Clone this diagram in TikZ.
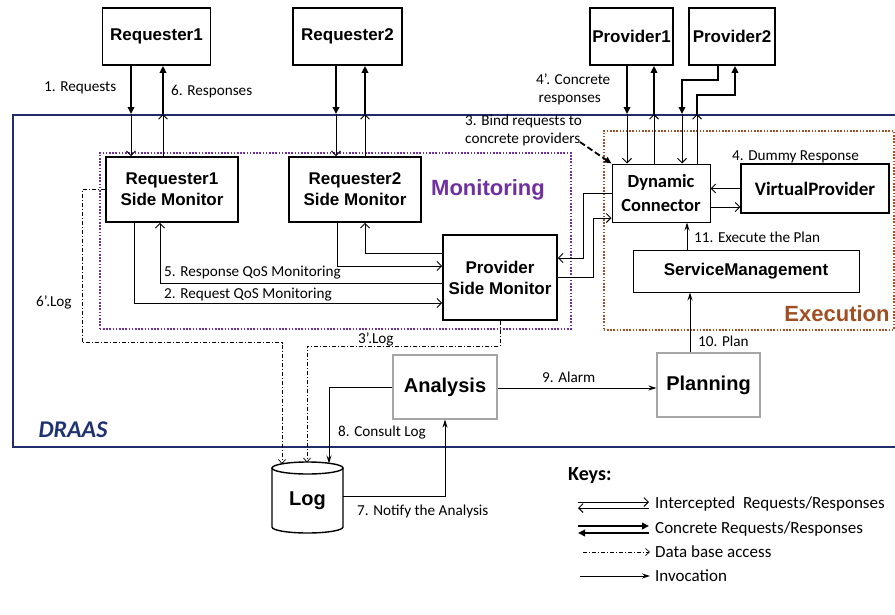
\documentclass[tikz,border=0pt]{standalone}
\usepackage{fontspec}
\setmainfont{Liberation Sans}
\newfontfamily\carl{Carlito}
\usetikzlibrary{arrows.meta}
\definecolor{navy}{HTML}{1F2D6B}
\definecolor{draastxt}{HTML}{1F3370}
\definecolor{monpurple}{HTML}{7030A0}
\definecolor{exebrown}{HTML}{A04F23}
\definecolor{boxgray}{HTML}{A6A6A6}
\tikzset{
 bigbox/.style={draw, line width=1.8pt, inner sep=0pt, align=center, font=\bfseries\fontsize{17}{21}\selectfont},
 cbox/.style={draw, inner sep=0pt, align=center, font=\carl\bfseries\fontsize{18.5}{24}\selectfont},
 graybox/.style={draw=boxgray, line width=1.1pt, inner sep=0pt, font=\bfseries\fontsize{20}{24}\selectfont},
 lbl/.style={anchor=west, inner sep=0pt, align=left, font=\carl\fontsize{15.2}{18}\selectfont},
 keylbl/.style={anchor=west, inner sep=0pt, font=\carl\fontsize{17}{20}\selectfont},
 conc/.style={line width=2.4pt, -{Triangle[length=7pt,width=6.5pt]}},
 icpt/.style={line width=0.9pt, -{Straight Barb[length=4.5pt,width=9pt]}},
 invk/.style={line width=1pt, -{Stealth[length=8pt,width=5pt]}},
 dbase/.style={line width=0.7pt, dash pattern=on 4pt off 2pt on 1pt off 2pt, -{Straight Barb[length=4pt,width=7pt]}},
 bindarr/.style={line width=1.8pt, dash pattern=on 6pt off 3pt, -{Triangle[length=7pt,width=6pt]}},
 frame/.style={inner sep=0pt, anchor=north west},
}
\begin{document}
\begin{tikzpicture}[x=1pt,y=-1pt]
\useasboundingbox (0,0) rectangle (895,614);
\clip (0,0) rectangle (895,614);
\fill[white] (0,0) rectangle (895,614);

% frames
\node[frame, draw=navy, line width=1.8pt, minimum width=900pt, minimum height=332pt] (draas) at (12,114) {};
\node[frame, draw=monpurple, line width=1.6pt, dash pattern=on 1.6pt off 1.6pt, minimum width=471pt, minimum height=176pt] (mon) at (99,152) {};
\node[frame, draw=exebrown, line width=1.6pt, dash pattern=on 1.6pt off 1.6pt, minimum width=290pt, minimum height=199pt] (exe) at (603,130) {};
\node[text=draastxt, font=\carl\bfseries\itshape\fontsize{24}{28}\selectfont] (draaslbl) at (73,430) {DRAAS};
\node[text=monpurple, font=\bfseries\fontsize{22}{26}\selectfont] (monlbl) at (488,190) {Monitoring};
\node[text=exebrown, font=\bfseries\fontsize{22}{26}\selectfont] (exelbl) at (837,314) {Execution};

% boxes
\node[bigbox, minimum width=108pt, minimum height=57pt] (req1) at (156.5,36.5) {Requester1};
\node[bigbox, minimum width=109pt, minimum height=57pt] (req2) at (347.5,36.5) {Requester2};
\node[bigbox, minimum width=83pt, minimum height=57pt] (prov1) at (631.5,36.5) {Provider1};
\node[bigbox, minimum width=86pt, minimum height=57pt] (prov2) at (732,36.5) {Provider2};
\node[bigbox, minimum width=132pt, minimum height=65pt] (r1sm) at (172,189.5) {Requester1\\Side Monitor};
\node[bigbox, minimum width=132pt, minimum height=65pt] (r2sm) at (355,189.5) {Requester2\\Side Monitor};
\node[bigbox, minimum width=114pt, minimum height=85pt] (psm) at (500,277.5) {Provider\\Side Monitor};
\node[cbox, line width=1pt, minimum width=98pt, minimum height=58pt] (dc) at (661,193) {Dynamic\\Connector};
\node[cbox, line width=1.3pt, minimum width=148pt, minimum height=49pt, font=\carl\bfseries\fontsize{19}{24}\selectfont] (vp) at (815,188.5) {VirtualProvider};
\node[bigbox, line width=1pt, minimum width=226pt, minimum height=42pt] (sm) at (746,271) {ServiceManagement};
\node[graybox, minimum width=103pt, minimum height=64pt] (plan) at (708.5,385) {Planning};
\node[graybox, minimum width=104pt, minimum height=64pt] (ana) at (445,387) {Analysis};

% Log cylinder
\node[inner sep=0pt, minimum width=71pt, minimum height=71pt, font=\bfseries\fontsize{20}{24}\selectfont] (log) at (307.5,501) {Log};
\draw[line width=1.4pt] (272,468) -- (272,527) arc[start angle=180, end angle=360, x radius=35.5pt, y radius=6pt] -- (343,468);
\draw[line width=1.4pt] (307.5,468) ellipse [x radius=35.5pt, y radius=6pt];
\coordinate (lg1) at (282,464);
\coordinate (lg2) at (307,462.5);
\coordinate (lg3) at (329,463.5);

% crossing points on the DRAAS border
\coordinate (c1d) at (131,114);
\coordinate (c1u) at (163,114);
\coordinate (c2d) at (336,114);
\coordinate (c2u) at (365,114);
\coordinate (p1d) at (627,114);
\coordinate (p1u) at (654,114);
\coordinate (p2d) at (682,114);
\coordinate (p2u) at (697,114);
\coordinate (p2a) at (718,80);
\coordinate (p2b) at (735,95);

% requester 1
\draw[conc] (req1.south -| c1d) -- (c1d);
\draw[icpt] (c1d) -- (c1d |- r1sm.north);
\draw[icpt] (r1sm.north -| c1u) -- (c1u);
\draw[conc] (c1u) -- (c1u |- req1.south);
% requester 2
\draw[conc] (req2.south -| c2d) -- (c2d);
\draw[icpt] (c2d) -- (c2d |- r2sm.north);
\draw[icpt] (r2sm.north -| c2u) -- (c2u);
\draw[conc] (c2u) -- (c2u |- req2.south);
% provider 1
\draw[conc] (prov1.south -| p1d) -- (p1d);
\draw[icpt] (p1d) -- (p1d |- dc.north);
\draw[icpt] (dc.north -| p1u) -- (p1u);
\draw[conc] (p1u) -- (p1u |- prov1.south);
% provider 2
\draw[conc] (p2a |- prov2.south) -- (p2a) -| (p2d);
\draw[icpt] (p2d) -- (p2d |- dc.north);
\draw[icpt] (dc.north -| p2u) -- (p2u);
\draw[conc] (p2u) |- (p2b) -- (p2b |- prov2.south);

% bind
\coordinate (bind) at (580,142);
\draw[bindarr] (bind) -- (dc.north west);

% monitoring arrows
\draw[icpt] ([xshift=-38pt]r1sm.south) |- ([yshift=-25.5pt]psm.west);
\draw[icpt] ([yshift=-5.5pt]psm.west) -| ([xshift=-12pt]r1sm.south);
\draw[icpt] ([xshift=-18pt]r2sm.south) |- ([yshift=11.5pt]psm.west);
\draw[icpt] ([yshift=24.5pt]psm.west) -| ([xshift=10pt]r2sm.south);

% psm <-> dc
\draw[icpt] (dc.west) -- ++(-28,0) |- ([yshift=19.5pt]psm.east);
\draw[icpt] (psm.east) -- ++(36,0) |- ([yshift=-25pt]dc.west);

% dc <-> vp
\draw[icpt] (vp.west) -- (vp.west -| dc.east);
\draw[icpt] ([yshift=-14pt]dc.east) -- ([yshift=-14pt]dc.east -| vp.west);

% invocations
\draw[invk] ([xshift=-59pt]sm.north) -- ([xshift=-59pt]sm.north |- dc.south);
\draw[invk] ([xshift=-18.5pt]plan.north) -- ([xshift=-18.5pt]plan.north |- sm.south);
\draw[invk] ([yshift=-1pt]ana.east) -- ([yshift=-1pt]ana.east -| plan.west);
\draw[invk] (ana.west) -| (lg3);
\draw[invk] ([yshift=5pt]log.east) -| (ana.south);

% database access
\draw[dbase] (r1sm.west) -- ++(-23,0) -- ++(0,153) -| (lg1);
\draw[dbase] (psm.south) -- ++(0,25) -| (lg2);

% labels
\node[lbl] (l1) at (44,88) {1. Requests};
\node[lbl] (l6) at (171,92) {6. Responses};
\node[lbl] (l4p) at (536,89) {4’. Concrete\\\,responses};
\node[lbl] (l3) at (465,130) {3. Bind requests to\\concrete providers};
\node[lbl] (l4) at (732,157) {4. Dummy Response};
\node[lbl] (l11) at (694,237) {11. Execute the Plan};
\node[lbl] (l10) at (698,341) {10. Plan};
\node[lbl] (l9) at (542,377) {9. Alarm};
\node[lbl] (l8) at (338,433) {8. Consult Log};
\node[lbl] (l7) at (357,511) {7. Notify the Analysis};
\node[lbl] (l6p) at (36,302) {6’.Log};
\node[lbl] (l3p) at (358,339) {3’.Log};
\node[lbl] (l5) at (164,273) {5. Response QoS Monitoring};
\node[lbl] (l2) at (164,295) {2. Request QoS Monitoring};

% keys
\node[anchor=west, inner sep=0pt, font=\carl\bfseries\fontsize{20}{24}\selectfont] (keys) at (568,476) {Keys:};
\node[keylbl] (kint) at (655,504) {Intercepted\ \ Requests/Responses};
\node[keylbl] (kcon) at (655,529) {Concrete Requests/Responses};
\node[keylbl] (kdb) at (655,552) {Data base access};
\node[keylbl] (kinv) at (655,576) {Invocation};
\coordinate (ka1) at (578,502); \coordinate (ka2) at (649,502);
\coordinate (kb1) at (578,508); \coordinate (kb2) at (649,508);
\coordinate (kc1) at (578,526); \coordinate (kc2) at (649,526);
\coordinate (kd1) at (578,533); \coordinate (kd2) at (649,533);
\coordinate (ke1) at (583,552); \coordinate (ke2) at (650,552);
\coordinate (kf1) at (580,576); \coordinate (kf2) at (650,576);
\draw[icpt] (ka1) -- (ka2);
\draw[icpt] (kb2) -- (kb1);
\draw[conc] (kc1) -- (kc2);
\draw[conc] (kd2) -- (kd1);
\draw[dbase] (ke1) -- (ke2);
\draw[invk] (kf1) -- (kf2);
\end{tikzpicture}
\end{document}
